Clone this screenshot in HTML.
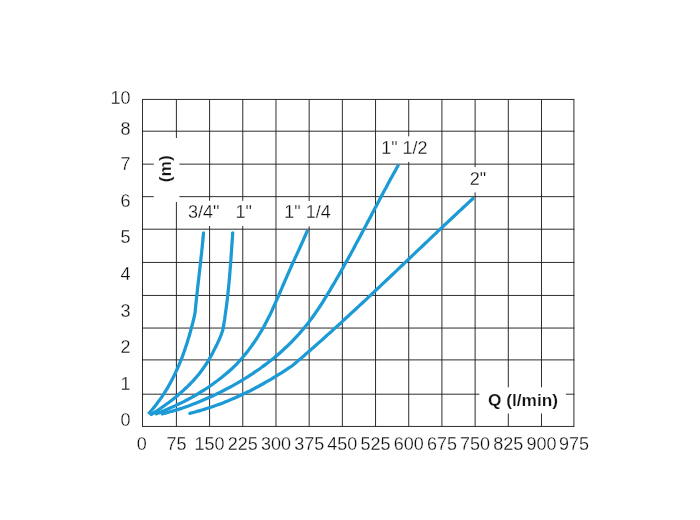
<!DOCTYPE html>
<html><head><meta charset="utf-8"><title>chart</title>
<style>
html,body{margin:0;padding:0;background:#fff;}
body{width:700px;height:520px;overflow:hidden;}
svg{display:block;}
text{font-family:"Liberation Sans",sans-serif;fill:#0c0c0c;}
.g line{stroke:#222;stroke-width:0.95;}
.c path{fill:none;stroke:#1b9ad6;stroke-width:3.25;stroke-linecap:round;stroke-linejoin:round;}
.t{font-size:18px;stroke:#fff;stroke-width:0.26px;}
.b{font-size:17.3px;font-weight:bold;fill:#111;stroke:#fff;stroke-width:0.2px;}
</style></head><body>
<svg width="700" height="520" viewBox="0 0 700 520">
<rect width="700" height="520" fill="#fff"/>
<g class="g">
<line x1="142.00" y1="99.45" x2="574.40" y2="99.45"/>
<line x1="142.00" y1="131.2" x2="574.40" y2="131.2"/>
<line x1="142.00" y1="164.15" x2="574.40" y2="164.15"/>
<line x1="142.00" y1="196.65" x2="574.40" y2="196.65"/>
<line x1="142.00" y1="229.2" x2="574.40" y2="229.2"/>
<line x1="142.00" y1="262.45" x2="574.40" y2="262.45"/>
<line x1="142.00" y1="295.45" x2="574.40" y2="295.45"/>
<line x1="142.00" y1="328.05" x2="574.40" y2="328.05"/>
<line x1="142.00" y1="359.9" x2="574.40" y2="359.9"/>
<line x1="142.00" y1="394.2" x2="574.40" y2="394.2"/>
<line x1="142.00" y1="426.45" x2="574.40" y2="426.45"/>
<line x1="142.50" y1="99.45" x2="142.50" y2="426.45"/>
<line x1="176.40" y1="99.45" x2="176.40" y2="426.45"/>
<line x1="209.59" y1="99.45" x2="209.59" y2="426.45"/>
<line x1="242.78" y1="99.45" x2="242.78" y2="426.45"/>
<line x1="275.97" y1="99.45" x2="275.97" y2="426.45"/>
<line x1="309.16" y1="99.45" x2="309.16" y2="426.45"/>
<line x1="342.35" y1="99.45" x2="342.35" y2="426.45"/>
<line x1="375.54" y1="99.45" x2="375.54" y2="426.45"/>
<line x1="408.73" y1="99.45" x2="408.73" y2="426.45"/>
<line x1="441.92" y1="99.45" x2="441.92" y2="426.45"/>
<line x1="475.11" y1="99.45" x2="475.11" y2="426.45"/>
<line x1="508.30" y1="99.45" x2="508.30" y2="426.45"/>
<line x1="541.49" y1="99.45" x2="541.49" y2="426.45"/>
<line x1="573.90" y1="99.45" x2="573.90" y2="426.45"/>
</g>
<g fill="#fff">
<rect x="153.8" y="138" width="25.6" height="64"/>
<rect x="183" y="200.8" width="73" height="25.2"/>
<rect x="283" y="201" width="50" height="25.3"/>
<rect x="380" y="136.4" width="50" height="25.5"/>
<rect x="466" y="167.1" width="24" height="25.3"/>
<rect x="479.4" y="387.3" width="86.5" height="26.2"/>
</g>
<g class="c">
<path d="M149.2 413.0C149.7 412.3 151.4 410.5 152.5 409.2C153.6 407.9 154.7 406.6 155.7 405.3C156.7 403.9 157.8 402.6 158.7 401.2C159.7 399.9 160.7 398.5 161.7 397.1C162.6 395.7 163.5 394.3 164.4 392.9C165.3 391.5 166.2 390.1 167.1 388.6C167.9 387.2 168.8 385.7 169.6 384.2C170.4 382.8 171.2 381.3 172.0 379.8C172.8 378.3 173.5 376.8 174.3 375.3C175.0 373.8 175.7 372.3 176.4 370.7C177.1 369.2 177.8 367.7 178.5 366.1C179.1 364.6 179.8 363.0 180.4 361.5C181.0 359.9 181.7 358.3 182.3 356.8C182.9 355.2 183.4 353.6 184.0 352.0C184.6 350.4 185.1 348.8 185.6 347.2C186.2 345.7 186.7 344.1 187.2 342.5C187.7 340.8 188.2 339.2 188.7 337.6C189.2 336.0 189.6 334.4 190.1 332.8C190.5 331.2 191.0 329.5 191.4 327.9C191.8 326.3 192.3 324.7 192.7 323.0C193.1 321.4 193.5 319.8 193.9 318.1C194.3 316.5 194.8 314.0 195.0 313.2C195.1 312.4 195.3 309.8 195.5 308.2C195.7 306.5 195.8 304.8 196.0 303.1C196.2 301.5 196.3 299.8 196.5 298.1C196.7 296.4 196.9 294.8 197.1 293.1C197.3 291.4 197.4 289.7 197.6 288.1C197.8 286.4 198.0 284.7 198.2 283.0C198.4 281.4 198.6 279.7 198.8 278.0C199.0 276.4 199.2 274.7 199.3 273.0C199.5 271.3 199.7 269.7 199.9 268.0C200.1 266.3 200.3 264.6 200.5 263.0C200.7 261.3 200.8 259.6 201.0 257.9C201.2 256.3 201.4 254.6 201.6 252.9C201.7 251.2 201.9 249.6 202.1 247.9C202.3 246.2 202.4 244.5 202.6 242.9C202.8 241.2 202.9 239.5 203.1 237.8C203.2 236.2 203.5 233.6 203.5 232.8"/>
<path d="M151.4 414.5C152.1 414.0 154.3 412.6 155.7 411.7C157.1 410.7 158.6 409.8 160.0 408.8C161.4 407.8 162.8 406.8 164.2 405.8C165.6 404.8 167.0 403.8 168.4 402.8C169.7 401.8 171.1 400.7 172.5 399.7C173.8 398.6 175.2 397.5 176.5 396.4C177.8 395.3 179.1 394.2 180.4 393.1C181.7 392.0 183.0 390.8 184.2 389.6C185.5 388.5 186.7 387.3 188.0 386.1C189.2 384.9 190.4 383.6 191.6 382.4C192.8 381.1 193.9 379.9 195.0 378.6C196.2 377.3 197.3 376.0 198.4 374.7C199.5 373.3 200.5 372.0 201.6 370.6C202.6 369.2 203.6 367.8 204.6 366.4C205.5 365.0 206.5 363.5 207.4 362.1C208.3 360.6 209.2 359.2 210.0 357.7C210.9 356.2 211.7 354.7 212.5 353.2C213.3 351.6 214.1 350.1 214.9 348.6C215.7 347.0 216.4 345.5 217.2 343.9C217.9 342.4 218.6 340.8 219.3 339.3C220.0 337.7 220.7 336.1 221.3 334.5C221.9 332.9 222.6 330.4 222.9 329.6C223.0 328.8 223.5 326.2 223.8 324.6C224.0 322.9 224.3 321.2 224.6 319.5C224.8 317.8 225.1 316.1 225.3 314.4C225.6 312.7 225.8 311.0 226.0 309.3C226.3 307.7 226.5 306.0 226.7 304.3C226.9 302.6 227.1 300.9 227.3 299.2C227.5 297.5 227.7 295.8 227.9 294.1C228.1 292.4 228.2 290.7 228.4 289.0C228.6 287.3 228.7 285.6 228.9 283.9C229.1 282.2 229.2 280.5 229.4 278.8C229.5 277.1 229.7 275.4 229.8 273.7C229.9 272.0 230.1 270.3 230.2 268.6C230.4 266.9 230.5 265.2 230.6 263.5C230.7 261.8 230.9 260.1 231.0 258.4C231.1 256.7 231.2 255.0 231.3 253.3C231.5 251.5 231.6 249.8 231.7 248.1C231.8 246.4 231.9 244.7 232.0 243.0C232.2 241.3 232.3 239.6 232.4 237.9C232.5 236.2 232.7 233.7 232.7 232.8"/>
<path d="M156.3 413.8C157.1 413.5 159.4 412.6 161.0 412.0C162.5 411.3 164.1 410.7 165.6 410.0C167.1 409.4 168.7 408.7 170.2 408.0C171.8 407.3 173.3 406.7 174.8 405.9C176.3 405.2 177.8 404.5 179.3 403.8C180.9 403.1 182.4 402.3 183.8 401.6C185.3 400.8 186.8 400.0 188.3 399.2C189.8 398.4 191.3 397.6 192.7 396.8C194.2 396.0 195.6 395.2 197.1 394.3C198.5 393.4 200.0 392.6 201.4 391.7C202.8 390.8 204.2 389.9 205.6 389.0C207.0 388.1 208.4 387.2 209.8 386.2C211.2 385.3 212.6 384.3 213.9 383.3C215.3 382.3 216.6 381.3 218.0 380.3C219.3 379.3 220.6 378.3 221.9 377.3C223.3 376.2 224.6 375.1 225.8 374.1C227.1 373.0 228.4 371.9 229.6 370.8C230.9 369.6 232.1 368.5 233.3 367.3C234.5 366.2 235.7 365.0 236.9 363.8C238.0 362.6 239.2 361.3 240.3 360.1C241.4 358.8 242.5 357.6 243.6 356.3C244.7 355.0 245.7 353.7 246.8 352.4C247.8 351.1 248.8 349.8 249.8 348.4C250.9 347.1 251.8 345.7 252.8 344.3C253.8 343.0 254.7 341.6 255.6 340.2C256.6 338.8 257.5 337.4 258.3 336.0C259.2 334.5 260.1 333.1 261.0 331.7C261.8 330.2 262.6 328.8 263.5 327.3C264.3 325.8 265.1 324.4 265.8 322.9C266.6 321.4 267.4 319.9 268.1 318.4C268.9 316.9 269.6 315.4 270.4 313.9C271.1 312.4 271.8 310.9 272.5 309.3C273.2 307.8 273.9 306.3 274.6 304.8C275.3 303.2 276.0 301.7 276.6 300.2C277.3 298.6 278.0 297.1 278.7 295.6C279.3 294.0 280.0 292.5 280.6 290.9C281.3 289.4 282.0 287.9 282.6 286.3C283.3 284.8 283.9 283.2 284.6 281.7C285.3 280.1 285.9 278.6 286.6 277.1C287.3 275.5 287.9 274.0 288.6 272.5C289.3 270.9 290.0 269.4 290.7 267.9C291.3 266.3 292.0 264.8 292.7 263.3C293.4 261.8 294.1 260.2 294.8 258.7C295.5 257.2 296.2 255.7 296.9 254.1C297.6 252.6 298.3 251.1 299.0 249.6C299.7 248.0 300.4 246.5 301.1 245.0C301.8 243.5 302.5 241.9 303.2 240.4C303.8 238.9 304.5 237.3 305.2 235.8C305.8 234.3 306.8 231.9 307.2 231.2"/>
<path d="M162.3 413.8C163.1 413.6 165.6 413.0 167.2 412.6C168.8 412.2 170.4 411.8 172.0 411.3C173.6 410.9 175.2 410.4 176.8 409.9C178.4 409.4 180.0 408.9 181.6 408.4C183.2 407.8 184.8 407.3 186.4 406.7C187.9 406.2 189.5 405.6 191.1 405.0C192.6 404.4 194.2 403.8 195.7 403.2C197.3 402.6 198.8 401.9 200.4 401.3C201.9 400.7 203.5 400.0 205.0 399.3C206.5 398.7 208.1 398.0 209.6 397.3C211.1 396.6 212.6 395.9 214.1 395.2C215.6 394.5 217.1 393.7 218.6 393.0C220.1 392.3 221.6 391.5 223.1 390.8C224.6 390.0 226.1 389.2 227.6 388.4C229.1 387.7 230.5 386.9 232.0 386.1C233.5 385.3 234.9 384.4 236.4 383.6C237.8 382.8 239.3 381.9 240.7 381.1C242.1 380.2 243.6 379.4 245.0 378.5C246.4 377.6 247.8 376.7 249.2 375.8C250.6 374.9 252.0 374.0 253.4 373.1C254.8 372.1 256.2 371.2 257.6 370.2C259.0 369.3 260.3 368.3 261.7 367.3C263.0 366.4 264.4 365.4 265.7 364.4C267.0 363.3 268.4 362.3 269.7 361.3C271.0 360.3 272.3 359.2 273.6 358.2C274.9 357.1 276.2 356.0 277.5 354.9C278.7 353.9 280.0 352.8 281.2 351.7C282.5 350.5 283.7 349.4 284.9 348.3C286.2 347.1 287.4 346.0 288.6 344.8C289.8 343.7 291.0 342.5 292.1 341.3C293.3 340.1 294.5 338.9 295.6 337.7C296.8 336.5 297.9 335.2 299.0 334.0C300.1 332.7 301.2 331.5 302.3 330.2C303.4 328.9 304.5 327.6 305.5 326.3C306.6 325.0 307.6 323.7 308.6 322.4C309.6 321.1 310.6 319.7 311.6 318.4C312.6 317.1 313.6 315.7 314.6 314.3C315.5 313.0 316.5 311.6 317.4 310.2C318.3 308.8 319.3 307.4 320.2 306.0C321.1 304.6 322.0 303.2 322.9 301.8C323.8 300.4 324.6 298.9 325.5 297.5C326.4 296.1 327.3 294.7 328.1 293.2C329.0 291.8 329.9 290.4 330.7 288.9C331.6 287.5 332.4 286.1 333.3 284.6C334.1 283.2 335.0 281.7 335.8 280.3C336.6 278.8 337.5 277.4 338.3 276.0C339.2 274.5 340.0 273.0 340.8 271.6C341.6 270.1 342.5 268.7 343.3 267.2C344.1 265.8 344.9 264.3 345.7 262.8C346.5 261.4 347.3 259.9 348.1 258.5C349.0 257.0 349.8 255.5 350.6 254.1C351.4 252.6 352.2 251.1 353.0 249.7C353.8 248.2 354.6 246.7 355.3 245.2C356.1 243.8 356.9 242.3 357.7 240.8C358.5 239.4 359.3 237.9 360.1 236.4C360.9 234.9 361.7 233.5 362.4 232.0C363.2 230.5 364.0 229.0 364.8 227.5C365.6 226.1 366.4 224.6 367.1 223.1C367.9 221.6 368.7 220.2 369.5 218.7C370.3 217.2 371.1 215.7 371.8 214.2C372.6 212.8 373.4 211.3 374.2 209.8C375.0 208.3 375.7 206.9 376.5 205.4C377.3 203.9 378.1 202.4 378.9 200.9C379.7 199.5 380.4 198.0 381.2 196.5C382.0 195.0 382.8 193.6 383.6 192.1C384.4 190.6 385.2 189.1 386.0 187.7C386.8 186.2 387.6 184.7 388.3 183.3C389.1 181.8 389.9 180.3 390.7 178.8C391.5 177.4 392.3 175.9 393.1 174.4C394.0 173.0 394.8 171.5 395.6 170.1C396.4 168.6 397.6 166.4 398.0 165.7"/>
<path d="M189.9 413.3C190.7 413.1 193.3 412.5 195.0 412.0C196.6 411.6 198.3 411.1 200.0 410.6C201.6 410.1 203.3 409.6 205.0 409.1C206.6 408.6 208.3 408.1 209.9 407.5C211.6 407.0 213.2 406.4 214.9 405.8C216.5 405.3 218.1 404.7 219.8 404.1C221.4 403.5 223.0 402.8 224.6 402.2C226.2 401.5 227.8 400.9 229.4 400.2C231.1 399.6 232.6 398.9 234.2 398.2C235.8 397.5 237.4 396.8 239.0 396.0C240.6 395.3 242.1 394.6 243.7 393.8C245.3 393.1 246.8 392.3 248.4 391.6C250.0 390.8 251.5 390.0 253.0 389.2C254.6 388.4 256.1 387.6 257.7 386.8C259.2 385.9 260.7 385.1 262.2 384.3C263.7 383.4 265.3 382.6 266.8 381.7C268.3 380.8 269.8 379.9 271.3 379.1C272.8 378.2 274.2 377.3 275.7 376.4C277.2 375.4 278.7 374.5 280.1 373.6C281.6 372.7 283.1 371.7 284.5 370.8C286.0 369.8 287.4 368.9 288.9 367.9C290.3 367.0 292.5 365.5 293.2 365.0C293.8 364.5 295.7 362.8 297.0 361.8C298.3 360.7 299.5 359.6 300.8 358.5C302.1 357.4 303.3 356.3 304.6 355.2C305.8 354.1 307.1 353.0 308.3 351.9C309.6 350.8 310.9 349.7 312.1 348.6C313.4 347.5 314.6 346.4 315.9 345.3C317.1 344.2 318.3 343.1 319.6 342.0C320.8 340.9 322.1 339.8 323.3 338.7C324.6 337.6 325.8 336.4 327.0 335.3C328.3 334.2 329.5 333.1 330.8 332.0C332.0 330.9 333.2 329.7 334.5 328.6C335.7 327.5 336.9 326.4 338.2 325.3C339.4 324.1 340.6 323.0 341.9 321.9C343.1 320.8 344.3 319.6 345.5 318.5C346.8 317.4 348.0 316.2 349.2 315.1C350.4 314.0 351.7 312.9 352.9 311.7C354.1 310.6 355.3 309.5 356.6 308.3C357.8 307.2 359.0 306.0 360.2 304.9C361.4 303.8 362.7 302.6 363.9 301.5C365.1 300.4 366.3 299.2 367.5 298.1C368.7 296.9 370.0 295.8 371.2 294.7C372.4 293.5 373.6 292.4 374.8 291.2C376.0 290.1 377.2 288.9 378.5 287.8C379.7 286.6 380.9 285.5 382.1 284.4C383.3 283.2 384.5 282.1 385.7 280.9C386.9 279.8 388.1 278.6 389.4 277.5C390.6 276.3 391.8 275.2 393.0 274.0C394.2 272.9 395.4 271.7 396.6 270.6C397.8 269.4 399.0 268.3 400.2 267.1C401.4 266.0 402.6 264.8 403.9 263.7C405.1 262.5 406.3 261.4 407.5 260.2C408.7 259.1 409.9 257.9 411.1 256.8C412.3 255.6 413.5 254.5 414.7 253.4C415.9 252.2 417.1 251.1 418.3 249.9C419.6 248.8 420.8 247.6 422.0 246.5C423.2 245.3 424.4 244.2 425.6 243.0C426.8 241.9 428.0 240.7 429.2 239.6C430.4 238.4 431.6 237.3 432.8 236.1C434.1 235.0 435.3 233.8 436.5 232.7C437.7 231.5 438.9 230.4 440.1 229.2C441.3 228.1 442.5 227.0 443.7 225.8C445.0 224.7 446.2 223.5 447.4 222.4C448.6 221.2 449.8 220.1 451.0 219.0C452.2 217.8 453.5 216.7 454.7 215.5C455.9 214.4 457.1 213.3 458.3 212.1C459.6 211.0 460.8 209.8 462.0 208.7C463.2 207.6 464.4 206.4 465.7 205.3C466.9 204.2 468.1 203.0 469.3 201.9C470.5 200.8 472.4 199.1 473.0 198.5"/>
</g>
<g class="t" text-anchor="end">
<text x="130.6" y="103.5">10</text>
<text x="130.6" y="134.5">8</text>
<text x="130.6" y="169.8">7</text>
<text x="130.6" y="206.9">6</text>
<text x="130.6" y="243.2">5</text>
<text x="130.6" y="280.3">4</text>
<text x="130.6" y="316.6">3</text>
<text x="130.6" y="353.3">2</text>
<text x="130.6" y="389.7">1</text>
<text x="130.6" y="425.8">0</text>
</g>
<g class="t" text-anchor="middle">
<text x="141.70" y="450.3">0</text>
<text x="176.40" y="450.3">75</text>
<text x="209.59" y="450.3">150</text>
<text x="242.78" y="450.3">225</text>
<text x="275.97" y="450.3">300</text>
<text x="309.16" y="450.3">375</text>
<text x="342.35" y="450.3">450</text>
<text x="375.54" y="450.3">525</text>
<text x="408.73" y="450.3">600</text>
<text x="441.92" y="450.3">675</text>
<text x="475.11" y="450.3">750</text>
<text x="508.30" y="450.3">825</text>
<text x="541.49" y="450.3">900</text>
<text x="573.90" y="450.3">975</text>
</g>
<g class="t">
<text x="188" y="217.9">3/4"</text>
<text x="235.5" y="217.9">1"</text>
<text x="284.3" y="217.9">1" 1/4</text>
<text x="381.2" y="154.3">1" 1/2</text>
<text x="469.8" y="184.7">2"</text>
</g>
<text class="b" x="488" y="405.8">Q (l/min)</text>
<text class="b" transform="translate(171,168.7) rotate(-90)" text-anchor="middle">(m)</text>
</svg></body></html>
